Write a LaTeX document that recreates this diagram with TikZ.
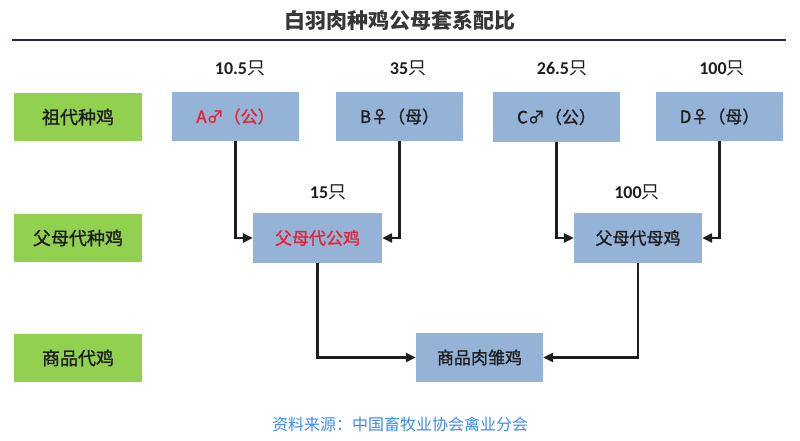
\documentclass[tikz,border=0pt]{standalone}
\usepackage{fontspec}
\setmainfont{Noto Sans CJK SC}
\newfontfamily\numfont{Carlito}
\newfontfamily\boxfont{Noto Sans CJK SC}[FakeBold=1.2]
\usetikzlibrary{arrows.meta}
\definecolor{gen}{RGB}{146,208,80}
\definecolor{bbox}{RGB}{149,179,215}
\definecolor{redtxt}{RGB}{226,36,58}
\definecolor{navy}{RGB}{30,38,100}
\definecolor{srcblue}{RGB}{60,140,240}
\definecolor{ink}{RGB}{30,30,30}
\tikzset{
  genbox/.style={fill=gen, minimum width=128pt, minimum height=48pt, inner sep=0pt, font=\boxfont\fontsize{18}{20}\selectfont, text=ink},
  chick/.style={fill=bbox, minimum width=127pt, minimum height=49pt, inner sep=0pt, font=\boxfont\fontsize{17}{20}\selectfont, text=ink},
  cnt/.style={font=\fontsize{18}{20}\selectfont, text=ink},
  link/.style={draw=ink, line width=2.3pt, -{Triangle[length=10pt,width=9pt]}},
}
\begin{document}
\begin{tikzpicture}[x=1pt,y=-1pt]
\useasboundingbox (0,0) rectangle (800,441);
\fill[white] (0,0) rectangle (800,441);
% title
\node[font=\fontsize{21}{24}\selectfont\bfseries, text={rgb,255:red,55;green,55;blue,55}] (title) at (400,20) {白羽肉种鸡公母套系配比};
\coordinate (l1) at (12,40);
\coordinate (l2) at (786,40);
\draw[navy, line width=2.6pt] (l1) -- (l2);
% generation labels
\node[genbox] (g1) at (78,117) {祖代种鸡};
\node[genbox] (g2) at (78,238) {父母代种鸡};
\node[genbox] (g3) at (78,358) {商品代鸡};
% grandparent boxes
\node[chick, text=redtxt] (A) at (235.5,116.5) {A♂（公）};
\node[chick] (B) at (399.5,116.5) {B♀（母）};
\node[chick] (C) at (556.5,117) {C♂（公）};
\node[chick] (D) at (719.5,116.5) {D♀（母）};
% counts
\node[cnt] (nA) at (240,68) {{\numfont\bfseries 10.5}只};
\node[cnt] (nB) at (408,68) {{\numfont\bfseries 35}只};
\node[cnt] (nC) at (562,68) {{\numfont\bfseries 26.5}只};
\node[cnt] (nD) at (722,68) {{\numfont\bfseries 100}只};
% parent boxes
\node[chick, minimum width=129pt, minimum height=50pt, text=redtxt] (P1) at (317.5,238) {父母代公鸡};
\node[chick, minimum width=128pt, minimum height=50pt] (P2) at (638,238) {父母代母鸡};
\node[cnt] (n1) at (328,192) {{\numfont\bfseries 15}只};
\node[cnt] (n2) at (637,192) {{\numfont\bfseries 100}只};
% commercial
\node[chick] (K) at (479.5,357.5) {商品肉雏鸡};
% links
\draw[link] (A.south) |- (P1.west);
\draw[link] (B.south) |- (P1.east);
\draw[link] (C.south) |- (P2.west);
\draw[link] (D.south) |- (P2.east);
\draw[link] (P1.south) |- (K.west);
\draw[link] (P2.south) |- (K.east);
% source
\node[font=\fontsize{16}{18}\selectfont, text=srcblue] (src) at (400,424) {资料来源：中国畜牧业协会禽业分会};
\end{tikzpicture}
\end{document}
